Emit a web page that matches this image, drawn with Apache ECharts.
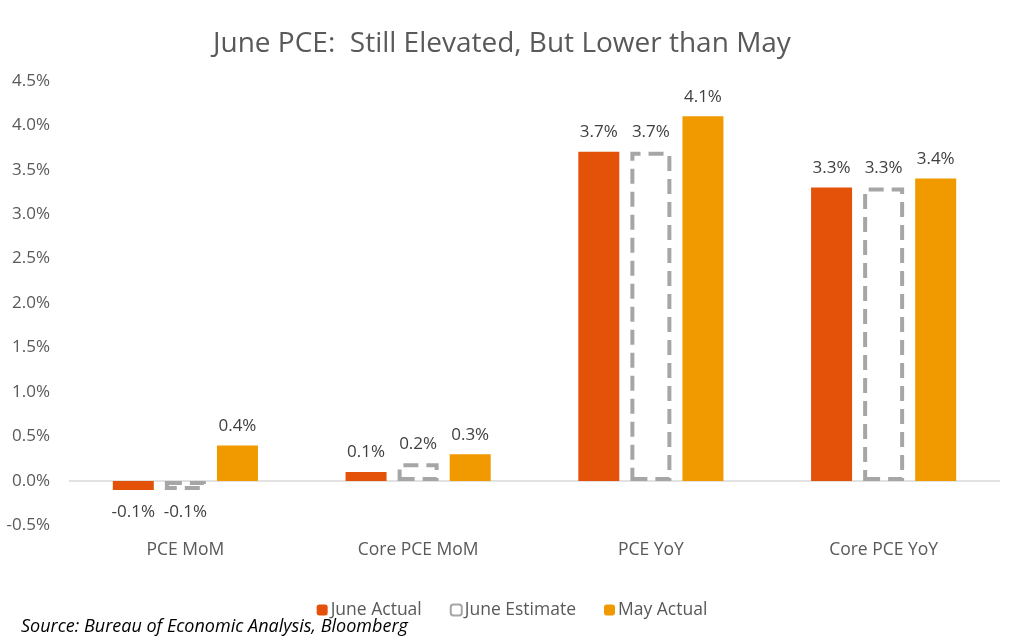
<!DOCTYPE html>
<html>
<head>
<meta charset="utf-8">
<script src="https://cdn.jsdelivr.net/npm/echarts@6/dist/echarts.min.js"></script>
<style>
  html, body { margin: 0; padding: 0; background: #fff; }
  #chart { width: 1024px; height: 641px; }
</style>
</head>
<body>
<div id="chart"></div>
<script>
// values in percent
let categories = ['PCE MoM', 'Core PCE MoM', 'PCE YoY', 'Core PCE YoY']
let juneActual = [-0.1, 0.1, 3.7, 3.3]
let juneEstimate = [-0.1, 0.2, 3.7, 3.3]
let mayActual = [0.4, 0.3, 4.1, 3.4]

let font = '"Open Sans", "Noto Sans", sans-serif'

// labels above positive bars, below negative ones
function withLabels(values) {
  return values.map(v => ({
    value: v,
    label: { position: v < 0 ? 'bottom' : 'top', distance: v < 0 ? 14 : 11 }
  }))
}

let labelStyle = {
  show: true,
  formatter: p => p.value.toFixed(1) + '%',
  color: '#404040',
  fontSize: 17,
  fontFamily: font
}

let myChart = echarts.init(document.getElementById('chart'))

myChart.setOption({
  animation: false,
  title: [
    {
      text: 'June PCE:  Still Elevated, But Lower than May',
      left: 208,
      top: 25,
      textStyle: { color: '#595959', fontSize: 28, fontWeight: 'normal', fontFamily: font }
    },
    {
      text: 'Source: Bureau of Economic Analysis, Bloomberg',
      left: 16,
      top: 613,
      textStyle: { color: '#000', fontSize: 18, fontStyle: 'italic', fontWeight: 'normal', fontFamily: font }
    }
  ],
  legend: {
    top: 596,
    left: 'center',
    itemWidth: 11,
    itemHeight: 11,
    itemGap: 28,
    textStyle: { color: '#595959', fontSize: 17.5, fontFamily: font, padding: [0, 0, 0, -2] }
  },
  grid: { left: 69, right: 24, top: 80.7, bottom: 115.5 },
  xAxis: {
    type: 'category',
    data: categories,
    axisLine: { show: false },
    axisTick: { show: false },
    axisLabel: { margin: 16, color: '#595959', fontSize: 17.5, fontFamily: font }
  },
  yAxis: {
    type: 'value',
    min: -0.5,
    max: 4.5,
    interval: 0.5,
    axisLine: { show: false },
    axisTick: { show: false },
    splitLine: { show: false },
    axisLabel: {
      margin: 19,
      formatter: v => v.toFixed(1) + '%',
      color: '#595959',
      fontSize: 17,
      fontFamily: font
    }
  },
  series: [
    {
      name: 'June Actual',
      type: 'bar',
      barWidth: 41,
      barGap: '27%',
      data: withLabels(juneActual),
      itemStyle: { color: '#E4520A' },
      label: labelStyle,
      z: 3,
      markLine: {
        silent: true,
        symbol: 'none',
        label: { show: false },
        lineStyle: { color: '#D9D9D9', width: 1.5, type: 'solid' },
        data: [{ yAxis: 0 }],
        z: 1
      }
    },
    {
      name: 'June Estimate',
      type: 'bar',
      barWidth: 41,
      barGap: '27%',
      data: withLabels(juneEstimate),
      itemStyle: { color: '#fff', borderColor: '#A6A6A6', borderWidth: 4, borderType: [15, 8] },
      label: labelStyle,
      z: 3
    },
    {
      name: 'May Actual',
      type: 'bar',
      barWidth: 41,
      barGap: '27%',
      data: withLabels(mayActual),
      itemStyle: { color: '#F09A00' },
      label: labelStyle,
      z: 3
    }
  ]
})
</script>
</body>
</html>
